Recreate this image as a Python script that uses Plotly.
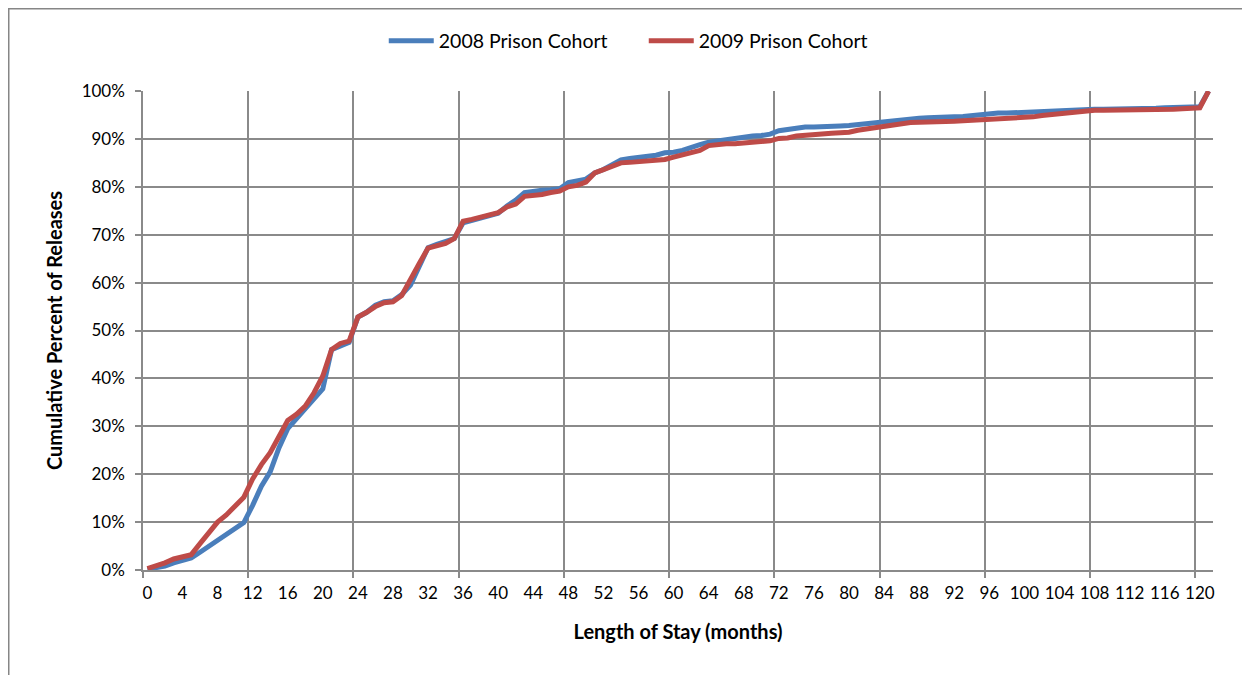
import plotly.graph_objects as go

# months 0..121, cumulative percent of releases
months = list(range(0, 122))

cohort_2008 = [
    0.2, 0.4, 0.8, 1.5, 2.0, 2.5, 3.7, 5.0, 6.2, 7.3,
    8.8, 9.9, 13.5, 17.5, 20.5, 25.5, 29.5, 31.5, 33.5, 35.5,
    37.8, 46.0, 46.8, 47.5, 52.8, 53.8, 55.3, 56.0, 56.2, 57.5,
    59.5, 63.5, 67.3, 68.0, 68.5, 69.2, 72.5, 73.0, 73.4, 74.0,
    74.5, 76.0, 77.2, 78.8, 79.1, 79.3, 79.4, 79.6, 80.9, 81.2,
    81.6, 82.9, 83.6, 84.6, 85.6, 85.9, 86.1, 86.3, 86.6, 87.1,
    87.2, 87.6, 88.3, 88.8, 89.3, 89.6, 89.7, 90.0, 90.3, 90.6,
    90.7, 91.0, 91.7, 92.0, 92.2, 92.5, 92.5, 92.5, 92.6, 92.7,
    92.8, 93.0, 93.1, 93.4, 93.6, 93.8, 94.1, 94.2, 94.3, 94.4,
    94.4, 94.5, 94.6, 94.7, 94.9, 95.1, 95.3, 95.4, 95.4, 95.5,
    95.5, 95.6, 95.7, 95.8, 95.9, 96.0, 96.0, 96.1, 96.2, 96.2,
    96.2, 96.3, 96.3, 96.3, 96.4, 96.4, 96.5, 96.5, 96.6, 96.6,
    96.7, 100.0,
]

cohort_2009 = [
    0.3, 0.8, 1.5, 2.3, 2.8, 3.2, 5.5, 7.7, 10.0, 11.5,
    13.3, 15.2, 19.0, 22.0, 24.5, 27.8, 31.2, 32.5, 34.2, 37.0,
    40.5, 46.0, 47.3, 47.8, 52.8, 53.8, 55.0, 55.8, 56.0, 57.3,
    60.8, 64.0, 67.2, 67.7, 68.2, 69.2, 72.8, 73.2, 73.6, 74.2,
    74.6, 75.8, 76.4, 78.0, 78.1, 78.4, 78.8, 79.1, 80.0, 80.3,
    81.0, 82.9, 83.6, 84.4, 85.0, 85.1, 85.3, 85.5, 85.6, 85.7,
    86.2, 86.7, 87.2, 87.6, 88.6, 88.9, 89.0, 89.0, 89.1, 89.3,
    89.5, 89.6, 90.1, 90.2, 90.6, 90.8, 90.9, 91.0, 91.2, 91.3,
    91.4, 91.8, 92.1, 92.4, 92.7, 93.0, 93.2, 93.4, 93.5, 93.5,
    93.5, 93.6, 93.7, 93.8, 93.9, 94.1, 94.2, 94.3, 94.3, 94.3,
    94.4, 94.6, 94.9, 95.1, 95.4, 95.6, 95.8, 95.9, 96.0, 96.0,
    96.0, 96.1, 96.1, 96.1, 96.1, 96.1, 96.1, 96.2, 96.3, 96.5,
    96.5, 100.0,
]

x_tick_vals = list(range(0, 121, 4))
x_grid_vals = [m - 0.5 for m in range(0, 121, 12)]

GRID = "#8a8a8a"
FONT = "Lato"

fig = go.Figure()
fig.add_trace(go.Scatter(
    x=months, y=[v / 100 for v in cohort_2008], mode="lines",
    name="2008 Prison Cohort", line=dict(color="#4a7ebb", width=5),
))
fig.add_trace(go.Scatter(
    x=months, y=[v / 100 for v in cohort_2009], mode="lines",
    name="2009 Prison Cohort", line=dict(color="#be4b48", width=5),
))

# page body adds 8px, so margins are 8px smaller than the screen positions
fig.update_layout(
    width=1250, height=675,
    margin=dict(l=135, r=45, t=83, b=113),
    paper_bgcolor="white", plot_bgcolor="white",
    font=dict(family=FONT, size=17, color="#000000"),
    showlegend=True,
    legend=dict(
        orientation="h", x=0.468, y=1.104, xanchor="center", yanchor="middle",
        font=dict(size=19.5), itemwidth=45, tracegroupgap=0, entrywidth=200,
    ),
)

fig.update_xaxes(
    range=[-0.5, 121.5],
    tickmode="array", tickvals=x_tick_vals, ticktext=[str(v) for v in x_tick_vals],
    ticks="", showgrid=False, zeroline=False, ticklabelstandoff=7,
    showline=True, linecolor=GRID, linewidth=1.5,
    minor=dict(tickvals=x_grid_vals, ticks="outside", ticklen=6, tickcolor=GRID,
               tickwidth=1.5, showgrid=True, gridcolor=GRID, gridwidth=1.5),
    title=dict(text="<b>Length of Stay (months)</b>", font=dict(size=20), standoff=23),
    tickfont=dict(size=17),
)

fig.update_yaxes(
    range=[0, 1], dtick=0.1, tickformat=".0%",
    ticks="outside", ticklen=6, tickcolor=GRID, tickwidth=1.5,
    showgrid=True, gridcolor=GRID, gridwidth=1.5, zeroline=False, ticklabelstandoff=7,
    showline=True, linecolor=GRID, linewidth=1.5,
    title=dict(text="<b>Cumulative Percent of Releases</b>", font=dict(size=20), standoff=14),
    tickfont=dict(size=17),
)

# outer chart frame (partly cut off at right and bottom in the original)
fig.add_shape(
    type="rect", xref="paper", yref="paper",
    x0=(0.75 - 135) / 1070, x1=(1260 - 135) / 1070,
    y0=(562 - 690) / 479, y1=(562 - 0.75) / 479,
    line=dict(color="#868686", width=1.5), layer="below",
)

fig.write_html("out.html")
